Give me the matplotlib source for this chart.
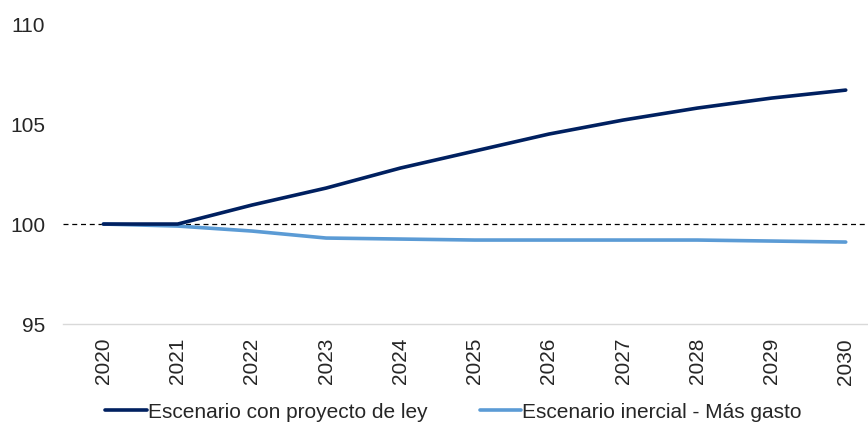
import matplotlib.pyplot as plt

# === Data ===
years = [2020, 2021, 2022, 2023, 2024, 2025, 2026, 2027, 2028, 2029, 2030]
con_proyecto = [100.0, 100.0, 100.95, 101.8, 102.8, 103.65, 104.5, 105.2, 105.8, 106.3, 106.7]
inercial = [100.0, 99.9, 99.65, 99.3, 99.25, 99.2, 99.2, 99.2, 99.2, 99.15, 99.1]
y_ticks = [95, 100, 105, 110]

plt.rcParams['font.family'] = ['Liberation Sans', 'DejaVu Sans']

fig = plt.figure(figsize=(8.68, 4.23), dpi=100)
ax = fig.add_axes([0.073, 0.234, 0.927, 0.709])

# reference line at 100
ax.axhline(100, color='black', linestyle=(0, (4, 3)), linewidth=0.9, zorder=1)

ax.plot(years, con_proyecto, color='#002060', linewidth=2.6,
        solid_capstyle='round', label='Escenario con proyecto de ley', zorder=3)
ax.plot(years, inercial, color='#5B9BD5', linewidth=2.6,
        solid_capstyle='round', label='Escenario inercial - Más gasto', zorder=2)

ax.set_ylim(95, 110)
ax.set_yticks(y_ticks)
ax.set_xlim(2019.46, 2030.3)
ax.set_xticks(years)
ax.set_xticklabels([str(y) for y in years], rotation=90)

for side in ['top', 'right', 'left']:
    ax.spines[side].set_visible(False)
ax.spines['bottom'].set_color('#d9d9d9')
ax.spines['bottom'].set_linewidth(1.0)

ax.tick_params(axis='both', length=0, labelsize=15, colors='#262626')
ax.tick_params(axis='y', pad=13)
ax.tick_params(axis='x', pad=10)

# legend along the bottom edge
leg = fig.legend(loc='center', bbox_to_anchor=(0.5225, 0.026), ncol=2,
                 frameon=False, fontsize=15, handlelength=2.0, handletextpad=0.05,
                 columnspacing=2.5, borderpad=0)
for t in leg.get_texts():
    t.set_color('#262626')

fig.savefig('out.png', dpi=100)
